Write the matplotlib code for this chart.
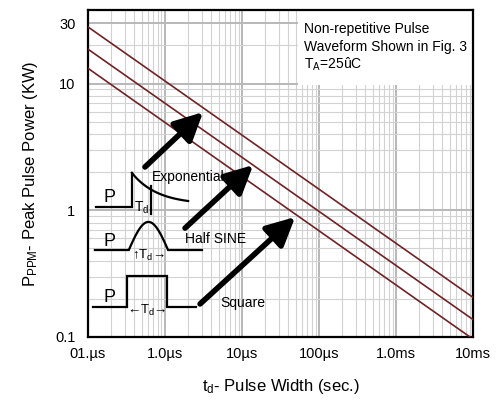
import numpy as np
import matplotlib
matplotlib.use("Agg")
import matplotlib.pyplot as plt
from matplotlib.patches import Rectangle

plt.rcParams['font.family'] = ['Liberation Sans', 'DejaVu Sans']
plt.rcParams['mathtext.fontset'] = 'custom'
plt.rcParams['mathtext.rm'] = 'Liberation Sans'
plt.rcParams['mathtext.it'] = 'Liberation Sans:italic'

# ---- data ----
pulse_width_s = [1e-7, 1e-2]
exponential_kw = [28.0, 0.205]
half_sine_kw = [18.7, 0.137]
square_kw = [13.2, 0.096]

x_ticks = [1e-7, 1e-6, 1e-5, 1e-4, 1e-3, 1e-2]
x_tick_labels = ["01.µs", "1.0µs", "10µs", "100µs", "1.0ms", "10ms"]
y_ticks = [0.1, 1, 10, 30]
y_tick_labels = ["0.1", "1", "10", "30"]

line_color = "#6e2326"

fig = plt.figure(figsize=(4.97, 4.05), dpi=100)
ax = fig.add_axes([0.177, 0.168, 0.775, 0.807])
ax.set_xscale('log')
ax.set_yscale('log')
ax.set_xlim(1e-7, 1e-2)
ax.set_ylim(0.1, 38)

for series in (exponential_kw, half_sine_kw, square_kw):
    ax.plot(pulse_width_s, series, color=line_color, lw=1.2, zorder=3)

ax.grid(True, which='minor', color='#d2d2d2', lw=0.8, zorder=0)
ax.grid(True, which='major', color='#b8b8b8', lw=1.4, zorder=0)
ax.set_axisbelow(True)

ax.set_xticks(x_ticks)
ax.set_xticklabels(x_tick_labels, fontsize=10.5)
ax.set_yticks(y_ticks)
ax.set_yticklabels(y_tick_labels, fontsize=10.5)
ax.tick_params(which='both', length=0)
ax.tick_params(axis='y', pad=9)
ax.tick_params(axis='x', pad=7)
for s in ax.spines.values():
    s.set_linewidth(1.6)
    s.set_color('black')

ax.set_xlabel(r"t$_{\mathrm{d}}$- Pulse Width (sec.)", fontsize=12, labelpad=12)
ax.set_ylabel(r"P$_{\mathrm{PPM}}$- Peak Pulse Power (KW)", fontsize=12, labelpad=11)

T = ax.transAxes

# info box
ax.add_patch(Rectangle((0.545, 0.771), 0.455, 0.229, transform=T, facecolor='white',
                       edgecolor='none', zorder=2))
ax.text(0.562, 0.942, "Non-repetitive Pulse", transform=T, fontsize=10, va='center', zorder=4)
ax.text(0.562, 0.888, "Waveform Shown in Fig. 3", transform=T, fontsize=10, va='center', zorder=4)
ax.text(0.562, 0.834, r"T$_{\mathrm{A}}$=25ûC", transform=T, fontsize=10, va='center', zorder=4)

# arrows
arrow_kw = dict(arrowstyle='-|>,head_length=0.9,head_width=0.45', color='black', lw=4,
                shrinkA=0, shrinkB=0, mutation_scale=19)
ax.annotate("", xy=(0.299, 0.688), xytext=(0.148, 0.520), xycoords=T, textcoords=T,
            arrowprops=arrow_kw, zorder=5)
ax.annotate("", xy=(0.429, 0.526), xytext=(0.252, 0.333), xycoords=T, textcoords=T,
            arrowprops=arrow_kw, zorder=5)
ax.annotate("", xy=(0.538, 0.367), xytext=(0.291, 0.101), xycoords=T, textcoords=T,
            arrowprops=arrow_kw, zorder=5)

wk = dict(color='black', lw=1.6, transform=T, zorder=5, solid_joinstyle='miter')
# exponential waveform
ax.plot([0.021, 0.114, 0.114], [0.398, 0.398, 0.502], **wk)
tt = np.linspace(0, 1, 40)
ax.plot(0.114 + tt * (0.260 - 0.114), 0.416 + (0.502 - 0.416) * (np.exp(-2.2 * tt) - np.exp(-2.2)) / (1 - np.exp(-2.2)), **wk)
ax.plot([0.164, 0.164], [0.375, 0.463], **wk)
ax.text(0.057, 0.428, "P", transform=T, fontsize=13, ha='center', va='center', zorder=6)
ax.text(0.140, 0.396, r"T$_{\mathrm{d}}$", transform=T, fontsize=10, ha='center', va='center', zorder=6)
ax.text(0.166, 0.489, "Exponential", transform=T, fontsize=10, ha='left', va='center', zorder=6)

# half sine waveform
ph = np.linspace(0, np.pi, 60)
ax.plot(np.concatenate([[0.018], 0.106 + (0.208 - 0.106) * ph / np.pi, [0.296]]),
        np.concatenate([[0.266], 0.266 + (0.352 - 0.266) * np.sin(ph), [0.266]]), **wk)
ax.text(0.057, 0.292, "P", transform=T, fontsize=13, ha='center', va='center', zorder=6)
ax.text(0.157, 0.250, r"↑T$_{\mathrm{d}}$→", transform=T, fontsize=9.5, ha='center', va='center', zorder=6)
ax.text(0.252, 0.300, "Half SINE", transform=T, fontsize=10, ha='left', va='center', zorder=6)

# square waveform
ax.plot([0.013, 0.101, 0.101, 0.205, 0.205, 0.281],
        [0.092, 0.092, 0.187, 0.187, 0.092, 0.092], **wk)
ax.text(0.057, 0.120, "P", transform=T, fontsize=13, ha='center', va='center', zorder=6)
ax.text(0.153, 0.080, r"←T$_{\mathrm{d}}$→", transform=T, fontsize=9.5, ha='center', va='center', zorder=6)
ax.text(0.343, 0.104, "Square", transform=T, fontsize=10, ha='left', va='center', zorder=6)

fig.savefig("out.png", dpi=100)
